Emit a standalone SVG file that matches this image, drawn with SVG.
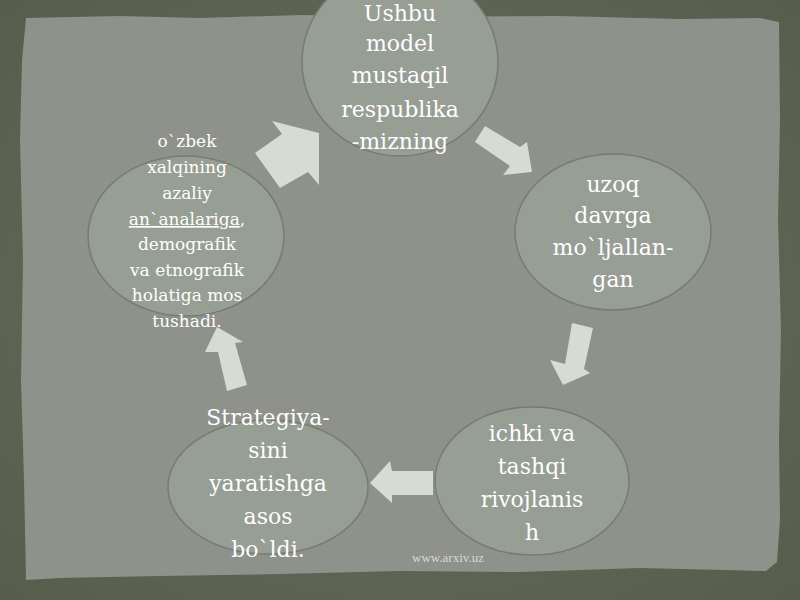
<svg xmlns="http://www.w3.org/2000/svg" width="800" height="600" viewBox="0 0 800 600">
<defs>
<style>
.node ellipse{fill:#979e93;stroke:#767c70;stroke-width:1.5}
.node text{font-family:"DejaVu Serif","Liberation Serif",serif;fill:#ffffff;text-anchor:middle}
.big{font-size:22px}
.small{font-size:17px}
.arrow{fill:#d6dbd3;stroke:none}
</style>
<radialGradient id="bg" cx="0.5" cy="0.5" r="0.75">
<stop offset="0" stop-color="#6a6f60"/>
<stop offset="1" stop-color="#565b4b"/>
</radialGradient>
</defs>
<rect x="0" y="0" width="800" height="600" fill="url(#bg)"/>
<path d="M26,18 L120,16 L200,18 L300,15 L420,17 L560,16 L680,19 L760,18 L779,22 L780,120 L778,220 L781,330 L779,440 L780,520 L777,562 L766,571 L640,568 L520,572 L400,571 L280,574 L160,576 L60,578 L26,580 L24,480 L21,380 L23,260 L20,140 L22,60 Z" fill="#8f918b"/>
<g id="connectors">
<polygon class="arrow" points="272,121 319,133 319,185 308,172 280,188 255,153 282,134"/>
<polygon class="arrow" points="485,126 520,147 527,142 532,172 503,175 510,166 475,142"/>
<polygon class="arrow" points="572,323 593,328 584,369 590,373 563,385 550,360 565,364"/>
<polygon class="arrow" points="433,471 433,495 392,495 392,503 370,483 390,461 392,471"/>
<polygon class="arrow" points="217,327 243,342 235,343 247,385 227,391 218,352 205,352"/>
</g>
<g id="node1" class="node">
<ellipse cx="400" cy="62" rx="98" ry="94"/>
<text class="big" x="400" y="21">Ushbu</text>
<text class="big" x="400" y="51">model</text>
<text class="big" x="400" y="83">mustaqil</text>
<text class="big" x="400" y="117">respublika</text>
<text class="big" x="400" y="149">-mizning</text>
</g>
<g id="node2" class="node">
<ellipse cx="613" cy="232" rx="98" ry="78"/>
<text class="big" x="613" y="192">uzoq</text>
<text class="big" x="613" y="223">davrga</text>
<text class="big" x="613" y="255">mo`ljallan-</text>
<text class="big" x="613" y="287">gan</text>
</g>
<g id="node3" class="node">
<ellipse cx="532" cy="481" rx="97" ry="74"/>
<text class="big" x="532" y="441">ichki va</text>
<text class="big" x="532" y="474">tashqi</text>
<text class="big" x="532" y="507">rivojlanis</text>
<text class="big" x="532" y="540">h</text>
</g>
<g id="node4" class="node">
<ellipse cx="268" cy="487" rx="100" ry="67"/>
<text class="big" x="268" y="425">Strategiya-</text>
<text class="big" x="268" y="458">sini</text>
<text class="big" x="268" y="491">yaratishga</text>
<text class="big" x="268" y="524">asos</text>
<text class="big" x="268" y="557">bo`ldi.</text>
</g>
<g id="node5" class="node">
<ellipse cx="186" cy="236" rx="98" ry="80"/>
<text class="small" x="187" y="147">o`zbek</text>
<text class="small" x="187" y="173">xalqining</text>
<text class="small" x="187" y="199">azaliy</text>
<text class="small" x="187" y="225"><tspan text-decoration="underline">an`analariga</tspan>,</text>
<text class="small" x="187" y="250">demografik</text>
<text class="small" x="187" y="276">va etnografik</text>
<text class="small" x="187" y="301">holatiga mos</text>
<text class="small" x="187" y="327">tushadi.</text>
</g>
<text x="448" y="562" font-family="Liberation Serif, serif" font-size="13" fill="#d6dad2" text-anchor="middle">www.arxiv.uz</text>
</svg>
